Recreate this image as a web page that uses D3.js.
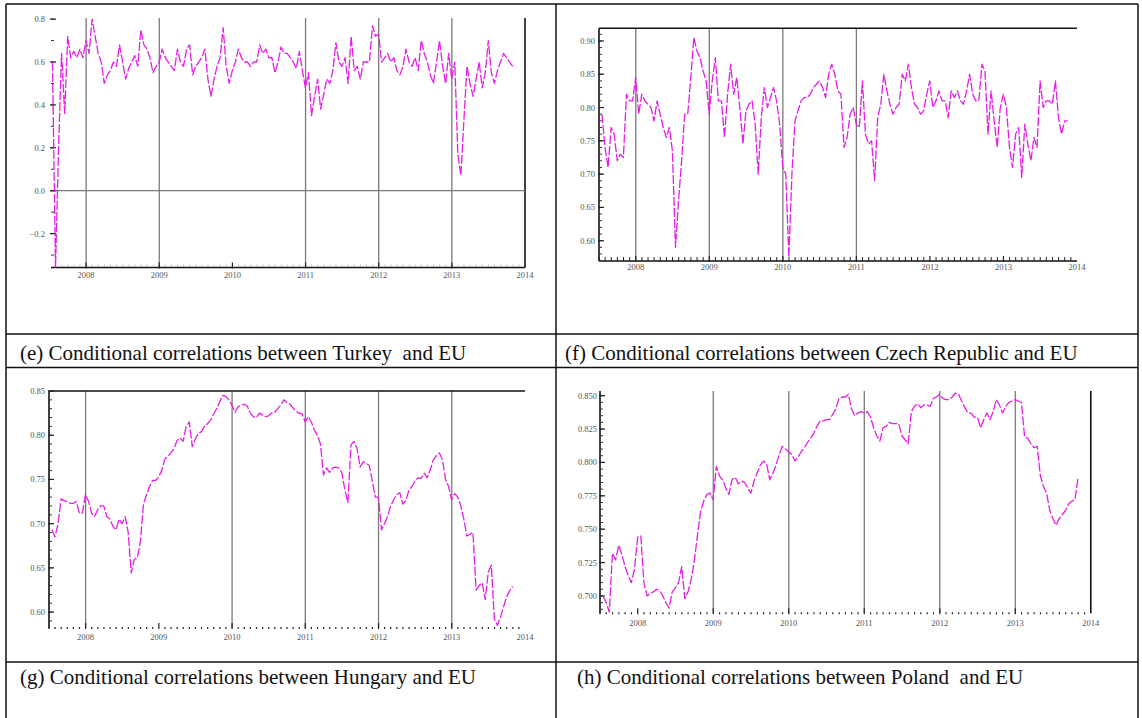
<!DOCTYPE html>
<html>
<head>
<meta charset="utf-8">
<script src="https://cdn.jsdelivr.net/npm/d3@7/dist/d3.min.js"></script>
<style>
  html, body { margin: 0; padding: 0; background: #fff; }
  svg { display: block; }
  .cap { font-family: "Liberation Serif", "Times New Roman", serif; font-size: 21px; fill: #111; white-space: pre; }
  .tick { font-family: "Liberation Serif", "Times New Roman", serif; font-size: 8.5px; fill: #555; }
</style>
</head>
<body>
<svg id="fig" width="1142" height="718"></svg>
<script>
// Semi-monthly observations of the DCC conditional correlations, starting mid-July 2007
const startYear = 2007.54;
const stepYear = 1 / 24;

const yearLabels = [2008, 2009, 2010, 2011, 2012, 2013, 2014];

const captions = [
  "(e) Conditional correlations between Turkey  and EU",
  "(f) Conditional correlations between Czech Republic and EU",
  "(g) Conditional correlations between Hungary and EU",
  "(h) Conditional correlations between Poland  and EU"
];

const turkeyTicks = [0.8, 0.6, 0.4, 0.2, 0.0, -0.2];
const czechTicks = [0.90, 0.85, 0.80, 0.75, 0.70, 0.65, 0.60];
const hungaryTicks = [0.85, 0.80, 0.75, 0.70, 0.65, 0.60];
const polandTicks = [0.850, 0.825, 0.800, 0.775, 0.750, 0.725, 0.700];

const turkey = [
  0.60, -0.36, 0.20, 0.64, 0.36, 0.72, 0.62, 0.65, 0.62, 0.66, 0.62,
  0.70, 0.64, 0.80, 0.72, 0.64, 0.60, 0.50, 0.54, 0.56, 0.60, 0.58, 0.68, 0.60, 0.52, 0.57, 0.60, 0.63, 0.58, 0.75, 0.68, 0.66, 0.62, 0.55, 0.58,
  0.60, 0.66, 0.62, 0.60, 0.58, 0.56, 0.66, 0.60, 0.58, 0.66, 0.68, 0.54, 0.58, 0.60, 0.62, 0.66, 0.52, 0.44, 0.52, 0.58, 0.62, 0.76, 0.58, 0.50,
  0.56, 0.60, 0.66, 0.62, 0.60, 0.60, 0.58, 0.60, 0.60, 0.68, 0.64, 0.66, 0.62, 0.62, 0.55, 0.60, 0.67, 0.64, 0.64, 0.62, 0.60, 0.57, 0.65, 0.56,
  0.48, 0.55, 0.35, 0.44, 0.52, 0.38, 0.45, 0.52, 0.50, 0.56, 0.69, 0.60, 0.58, 0.62, 0.50, 0.72, 0.56, 0.58, 0.52, 0.60, 0.60, 0.60, 0.77, 0.72,
  0.73, 0.60, 0.62, 0.64, 0.60, 0.62, 0.56, 0.54, 0.58, 0.66, 0.60, 0.58, 0.62, 0.56, 0.70, 0.64, 0.60, 0.54, 0.50, 0.60, 0.70, 0.58, 0.50, 0.64,
  0.52, 0.60, 0.17, 0.07, 0.33, 0.58, 0.50, 0.44, 0.52, 0.60, 0.48, 0.55, 0.70, 0.55, 0.50, 0.56, 0.60, 0.64, 0.62, 0.60, 0.58
];

const czech = [
  0.79, 0.74, 0.71, 0.77, 0.76, 0.72, 0.73, 0.725, 0.82, 0.81, 0.81,
  0.845, 0.79, 0.82, 0.81, 0.805, 0.80, 0.78, 0.81, 0.79, 0.77, 0.755, 0.77, 0.735, 0.59, 0.66, 0.72, 0.79, 0.79, 0.845, 0.905, 0.885, 0.875, 0.855, 0.84,
  0.79, 0.84, 0.875, 0.81, 0.81, 0.755, 0.82, 0.865, 0.82, 0.845, 0.80, 0.745, 0.795, 0.805, 0.81, 0.775, 0.70, 0.785, 0.83, 0.80, 0.815, 0.83, 0.81, 0.775,
  0.71, 0.70, 0.575, 0.70, 0.78, 0.795, 0.81, 0.815, 0.815, 0.82, 0.83, 0.835, 0.84, 0.83, 0.815, 0.85, 0.865, 0.85, 0.825, 0.82, 0.74, 0.755, 0.79, 0.80,
  0.775, 0.77, 0.84, 0.76, 0.745, 0.75, 0.69, 0.785, 0.805, 0.85, 0.825, 0.805, 0.79, 0.80, 0.805, 0.85, 0.84, 0.865, 0.83, 0.805, 0.80, 0.79, 0.795, 0.82,
  0.84, 0.80, 0.81, 0.825, 0.81, 0.81, 0.785, 0.825, 0.815, 0.825, 0.81, 0.805, 0.825, 0.85, 0.82, 0.81, 0.81, 0.865, 0.855, 0.76, 0.825, 0.78, 0.74, 0.80,
  0.82, 0.80, 0.74, 0.71, 0.76, 0.77, 0.695, 0.775, 0.745, 0.72, 0.755, 0.74, 0.84, 0.80, 0.81, 0.81, 0.805, 0.84, 0.785, 0.76, 0.78, 0.78
];

const hungary = [
  0.693, 0.685, 0.700, 0.728, 0.726, 0.725, 0.723, 0.723, 0.725, 0.712, 0.712,
  0.733, 0.725, 0.712, 0.708, 0.716, 0.720, 0.720, 0.708, 0.705, 0.697, 0.693, 0.705, 0.700, 0.708, 0.690, 0.644, 0.660, 0.661, 0.680, 0.722, 0.733, 0.742, 0.749, 0.749,
  0.753, 0.760, 0.773, 0.776, 0.780, 0.785, 0.794, 0.797, 0.793, 0.810, 0.815, 0.787, 0.796, 0.802, 0.804, 0.810, 0.813, 0.817, 0.824, 0.830, 0.838, 0.845, 0.844, 0.840,
  0.834, 0.826, 0.832, 0.834, 0.835, 0.833, 0.825, 0.821, 0.820, 0.825, 0.823, 0.821, 0.822, 0.825, 0.826, 0.830, 0.834, 0.840, 0.837, 0.835, 0.831, 0.827, 0.825, 0.824,
  0.815, 0.821, 0.815, 0.806, 0.800, 0.790, 0.755, 0.763, 0.758, 0.763, 0.764, 0.763, 0.758, 0.738, 0.724, 0.789, 0.793, 0.785, 0.764, 0.770, 0.768, 0.766, 0.748, 0.730,
  0.730, 0.693, 0.700, 0.708, 0.720, 0.727, 0.733, 0.735, 0.722, 0.726, 0.738, 0.742, 0.748, 0.752, 0.751, 0.757, 0.752, 0.761, 0.772, 0.777, 0.780, 0.772, 0.750, 0.742,
  0.727, 0.734, 0.730, 0.720, 0.705, 0.686, 0.688, 0.690, 0.625, 0.630, 0.633, 0.614, 0.645, 0.653, 0.592, 0.585, 0.594, 0.606, 0.617, 0.624, 0.629
];

const poland = [
  0.700, 0.695, 0.688, 0.732, 0.727, 0.738, 0.731, 0.722, 0.715, 0.710, 0.720,
  0.744, 0.745, 0.710, 0.700, 0.702, 0.703, 0.705, 0.704, 0.700, 0.695, 0.691, 0.703, 0.706, 0.710, 0.722, 0.698, 0.703, 0.712, 0.726, 0.745, 0.763, 0.771, 0.776, 0.777,
  0.772, 0.797, 0.790, 0.787, 0.781, 0.776, 0.787, 0.789, 0.784, 0.786, 0.785, 0.781, 0.777, 0.786, 0.792, 0.798, 0.801, 0.799, 0.787, 0.792, 0.798, 0.806, 0.812, 0.810,
  0.808, 0.806, 0.801, 0.804, 0.808, 0.811, 0.815, 0.818, 0.822, 0.827, 0.831, 0.831, 0.832, 0.832, 0.836, 0.840, 0.848, 0.849, 0.849, 0.851, 0.840, 0.835, 0.837, 0.838,
  0.837, 0.838, 0.834, 0.826, 0.820, 0.816, 0.826, 0.827, 0.830, 0.829, 0.829, 0.829, 0.820, 0.817, 0.814, 0.838, 0.842, 0.844, 0.841, 0.843, 0.843, 0.842, 0.848, 0.849,
  0.851, 0.848, 0.847, 0.847, 0.849, 0.852, 0.851, 0.846, 0.841, 0.837, 0.837, 0.834, 0.834, 0.826, 0.832, 0.837, 0.832, 0.838, 0.847, 0.843, 0.837, 0.842, 0.845, 0.846,
  0.847, 0.846, 0.845, 0.819, 0.818, 0.814, 0.811, 0.812, 0.790, 0.782, 0.777, 0.764, 0.758, 0.753, 0.758, 0.761, 0.764, 0.769, 0.771, 0.772, 0.789
];

// ---- layout of the four panels (pixel geometry only) ----
const panels = [
  { values: turkey, ticks: turkeyTicks, fmt: ".1f", minorStep: 0.1,
    xDomain: [2007.52, 2014], xRange: [51, 525],
    yDomain: [-0.358, 0.822], yRange: [267.5, 14.4],
    gridTop: 18, gridYears: [2008, 2009, 2011, 2012, 2013], endLine: true,
    yAxisLine: false, topFrame: false, xAxisLine: true, zeroLine: true,
    yearLabelY: 277.5, labelRight: 45, yearTickStyle: "faint" },
  { values: czech, ticks: czechTicks, fmt: ".2f", minorStep: 0.01,
    xDomain: [2007.5, 2014], xRange: [599, 1077],
    yDomain: [0.5695, 0.919], yRange: [261, 28.3],
    gridTop: 28.3, gridYears: [2008, 2009, 2010, 2011], endLine: false,
    yAxisLine: true, topFrame: true, xAxisLine: true, zeroLine: false,
    yearLabelY: 270, labelRight: 595, yearTickStyle: "up" },
  { values: hungary, ticks: hungaryTicks, fmt: ".2f", minorStep: 0.01,
    xDomain: [2007.5, 2014], xRange: [49, 525],
    yDomain: [0.582, 0.85], yRange: [628, 391],
    gridTop: 391, gridYears: [2008, 2010, 2011, 2012, 2013], endLine: false,
    yAxisLine: true, topFrame: true, xAxisLine: false, zeroLine: false,
    yearLabelY: 640, labelRight: 45, yearTickStyle: "dots" },
  { values: poland, ticks: polandTicks, fmt: ".3f", minorStep: 0.005,
    xDomain: [2007.5, 2014], xRange: [600, 1090.8],
    yDomain: [0.687, 0.8535], yRange: [613.3, 391],
    gridTop: 391, gridYears: [2009, 2010, 2011, 2012, 2013], endLine: true,
    yAxisLine: true, topFrame: false, xAxisLine: false, zeroLine: false,
    yearLabelY: 626, labelRight: 597, yearTickStyle: "dots" }
];

const svg = d3.select("#fig");
const magenta = "#e51ee5";

panels.forEach((p, i) => {
  const x = d3.scaleLinear().domain(p.xDomain).range(p.xRange);
  const y = d3.scaleLinear().domain(p.yDomain).range(p.yRange);
  const g = svg.append("g");
  const x0 = p.xRange[0], x1 = p.xRange[1];
  const yb = p.yRange[0], yt = p.yRange[1];

  // vertical year reference lines
  g.selectAll("line.grid").data(p.gridYears).join("line")
    .attr("x1", d => x(d)).attr("x2", d => x(d))
    .attr("y1", p.gridTop).attr("y2", yb)
    .attr("stroke", "#7a7a7a").attr("stroke-width", 1.3);

  if (p.endLine) {
    g.append("line").attr("x1", x(2014)).attr("x2", x(2014))
      .attr("y1", p.gridTop).attr("y2", yb)
      .attr("stroke", "#111").attr("stroke-width", 1.6);
  }
  if (p.zeroLine) {
    g.append("line").attr("x1", x0).attr("x2", x1)
      .attr("y1", y(0)).attr("y2", y(0))
      .attr("stroke", "#7a7a7a").attr("stroke-width", 1.3);
  }
  if (p.topFrame) {
    g.append("line").attr("x1", x0).attr("x2", x1)
      .attr("y1", yt).attr("y2", yt)
      .attr("stroke", "#111").attr("stroke-width", 1.6);
  }
  if (p.yAxisLine) {
    g.append("line").attr("x1", x0).attr("x2", x0)
      .attr("y1", yt).attr("y2", yb)
      .attr("stroke", "#111").attr("stroke-width", 1.6);
  }
  if (p.xAxisLine) {
    g.append("line").attr("x1", x0).attr("x2", x1)
      .attr("y1", yb).attr("y2", yb)
      .attr("stroke", "#111").attr("stroke-width", 1.6);
  }

  // y ticks: minor marks plus labelled major marks
  const lo = p.yDomain[0], hi = p.yDomain[1];
  const minor = d3.range(Math.ceil(lo / p.minorStep), Math.floor(hi / p.minorStep) + 1)
    .map(k => k * p.minorStep);
  g.selectAll("line.ymin").data(minor).join("line")
    .attr("x1", x0).attr("x2", x0 + 3)
    .attr("y1", d => y(d)).attr("y2", d => y(d))
    .attr("stroke", "#333").attr("stroke-width", 1);
  g.selectAll("line.ymaj").data(p.ticks).join("line")
    .attr("x1", x0 - 1).attr("x2", x0 + 5)
    .attr("y1", d => y(d)).attr("y2", d => y(d))
    .attr("stroke", "#222").attr("stroke-width", 1.2);
  g.selectAll("text.ylab").data(p.ticks).join("text")
    .attr("class", "tick")
    .attr("x", p.labelRight).attr("y", d => y(d) + 3)
    .attr("text-anchor", "end")
    .text(d => d3.format(p.fmt)(d));

  // x ticks: months and years
  const months = d3.range(Math.ceil(p.xDomain[0] * 12), Math.floor(p.xDomain[1] * 12) + 1)
    .map(m => m / 12).filter(t => Math.abs(t - Math.round(t)) > 1e-6);
  if (p.yearTickStyle === "up") {
    g.selectAll("line.xmin").data(months).join("line")
      .attr("x1", d => x(d)).attr("x2", d => x(d))
      .attr("y1", yb).attr("y2", yb - 4)
      .attr("stroke", "#222").attr("stroke-width", 1);
  } else if (p.yearTickStyle === "faint") {
    g.selectAll("line.xmin").data(months).join("line")
      .attr("x1", d => x(d)).attr("x2", d => x(d))
      .attr("y1", yb - 1).attr("y2", yb - 3)
      .attr("stroke", "#bbb").attr("stroke-width", 1);
  } else {
    g.selectAll("line.xmin").data(months).join("line")
      .attr("x1", d => x(d)).attr("x2", d => x(d))
      .attr("y1", yb - 1).attr("y2", yb + 1)
      .attr("stroke", "#222").attr("stroke-width", 1.2);
  }
  g.selectAll("line.xmaj").data(yearLabels.filter(t => t < 2014)).join("line")
    .attr("x1", d => x(d)).attr("x2", d => x(d))
    .attr("y1", yb - 5).attr("y2", yb + 1)
    .attr("stroke", "#222").attr("stroke-width", 1.2);
  g.selectAll("text.xlab").data(yearLabels).join("text")
    .attr("class", "tick")
    .attr("x", d => x(d)).attr("y", p.yearLabelY)
    .attr("text-anchor", "middle")
    .text(d => d);

  // correlation path, drawn in short broken strokes
  const clipId = "clip" + i;
  svg.append("clipPath").attr("id", clipId).append("rect")
    .attr("x", x0).attr("y", yt - 2).attr("width", x1 - x0).attr("height", yb - yt + 2);
  const line = d3.line()
    .x((d, k) => x(startYear + k * stepYear))
    .y(d => y(d));
  g.append("path").datum(p.values)
    .attr("clip-path", `url(#${clipId})`)
    .attr("d", line)
    .attr("fill", "none")
    .attr("stroke", magenta)
    .attr("stroke-width", 1.3)
    .attr("stroke-dasharray", "9 2")
    .attr("stroke-linejoin", "round");
});

// table frame around the panels and captions
const frame = svg.append("g").attr("stroke", "#111").attr("stroke-width", 1.5);
const hRows = [4, 334, 367.5, 662];
frame.selectAll("line.h").data(hRows).join("line")
  .attr("x1", 6).attr("x2", 1138).attr("y1", d => d).attr("y2", d => d);
frame.selectAll("line.v").data([6, 556, 1138]).join("line")
  .attr("x1", d => d).attr("x2", d => d).attr("y1", 4).attr("y2", 718);

// captions
const capPos = [[20, 360], [565, 360], [20, 684], [577, 684]];
svg.selectAll("text.cap").data(captions).join("text")
  .attr("class", "cap")
  .attr("x", (d, i) => capPos[i][0]).attr("y", (d, i) => capPos[i][1])
  .text(d => d);
</script>
</body>
</html>
